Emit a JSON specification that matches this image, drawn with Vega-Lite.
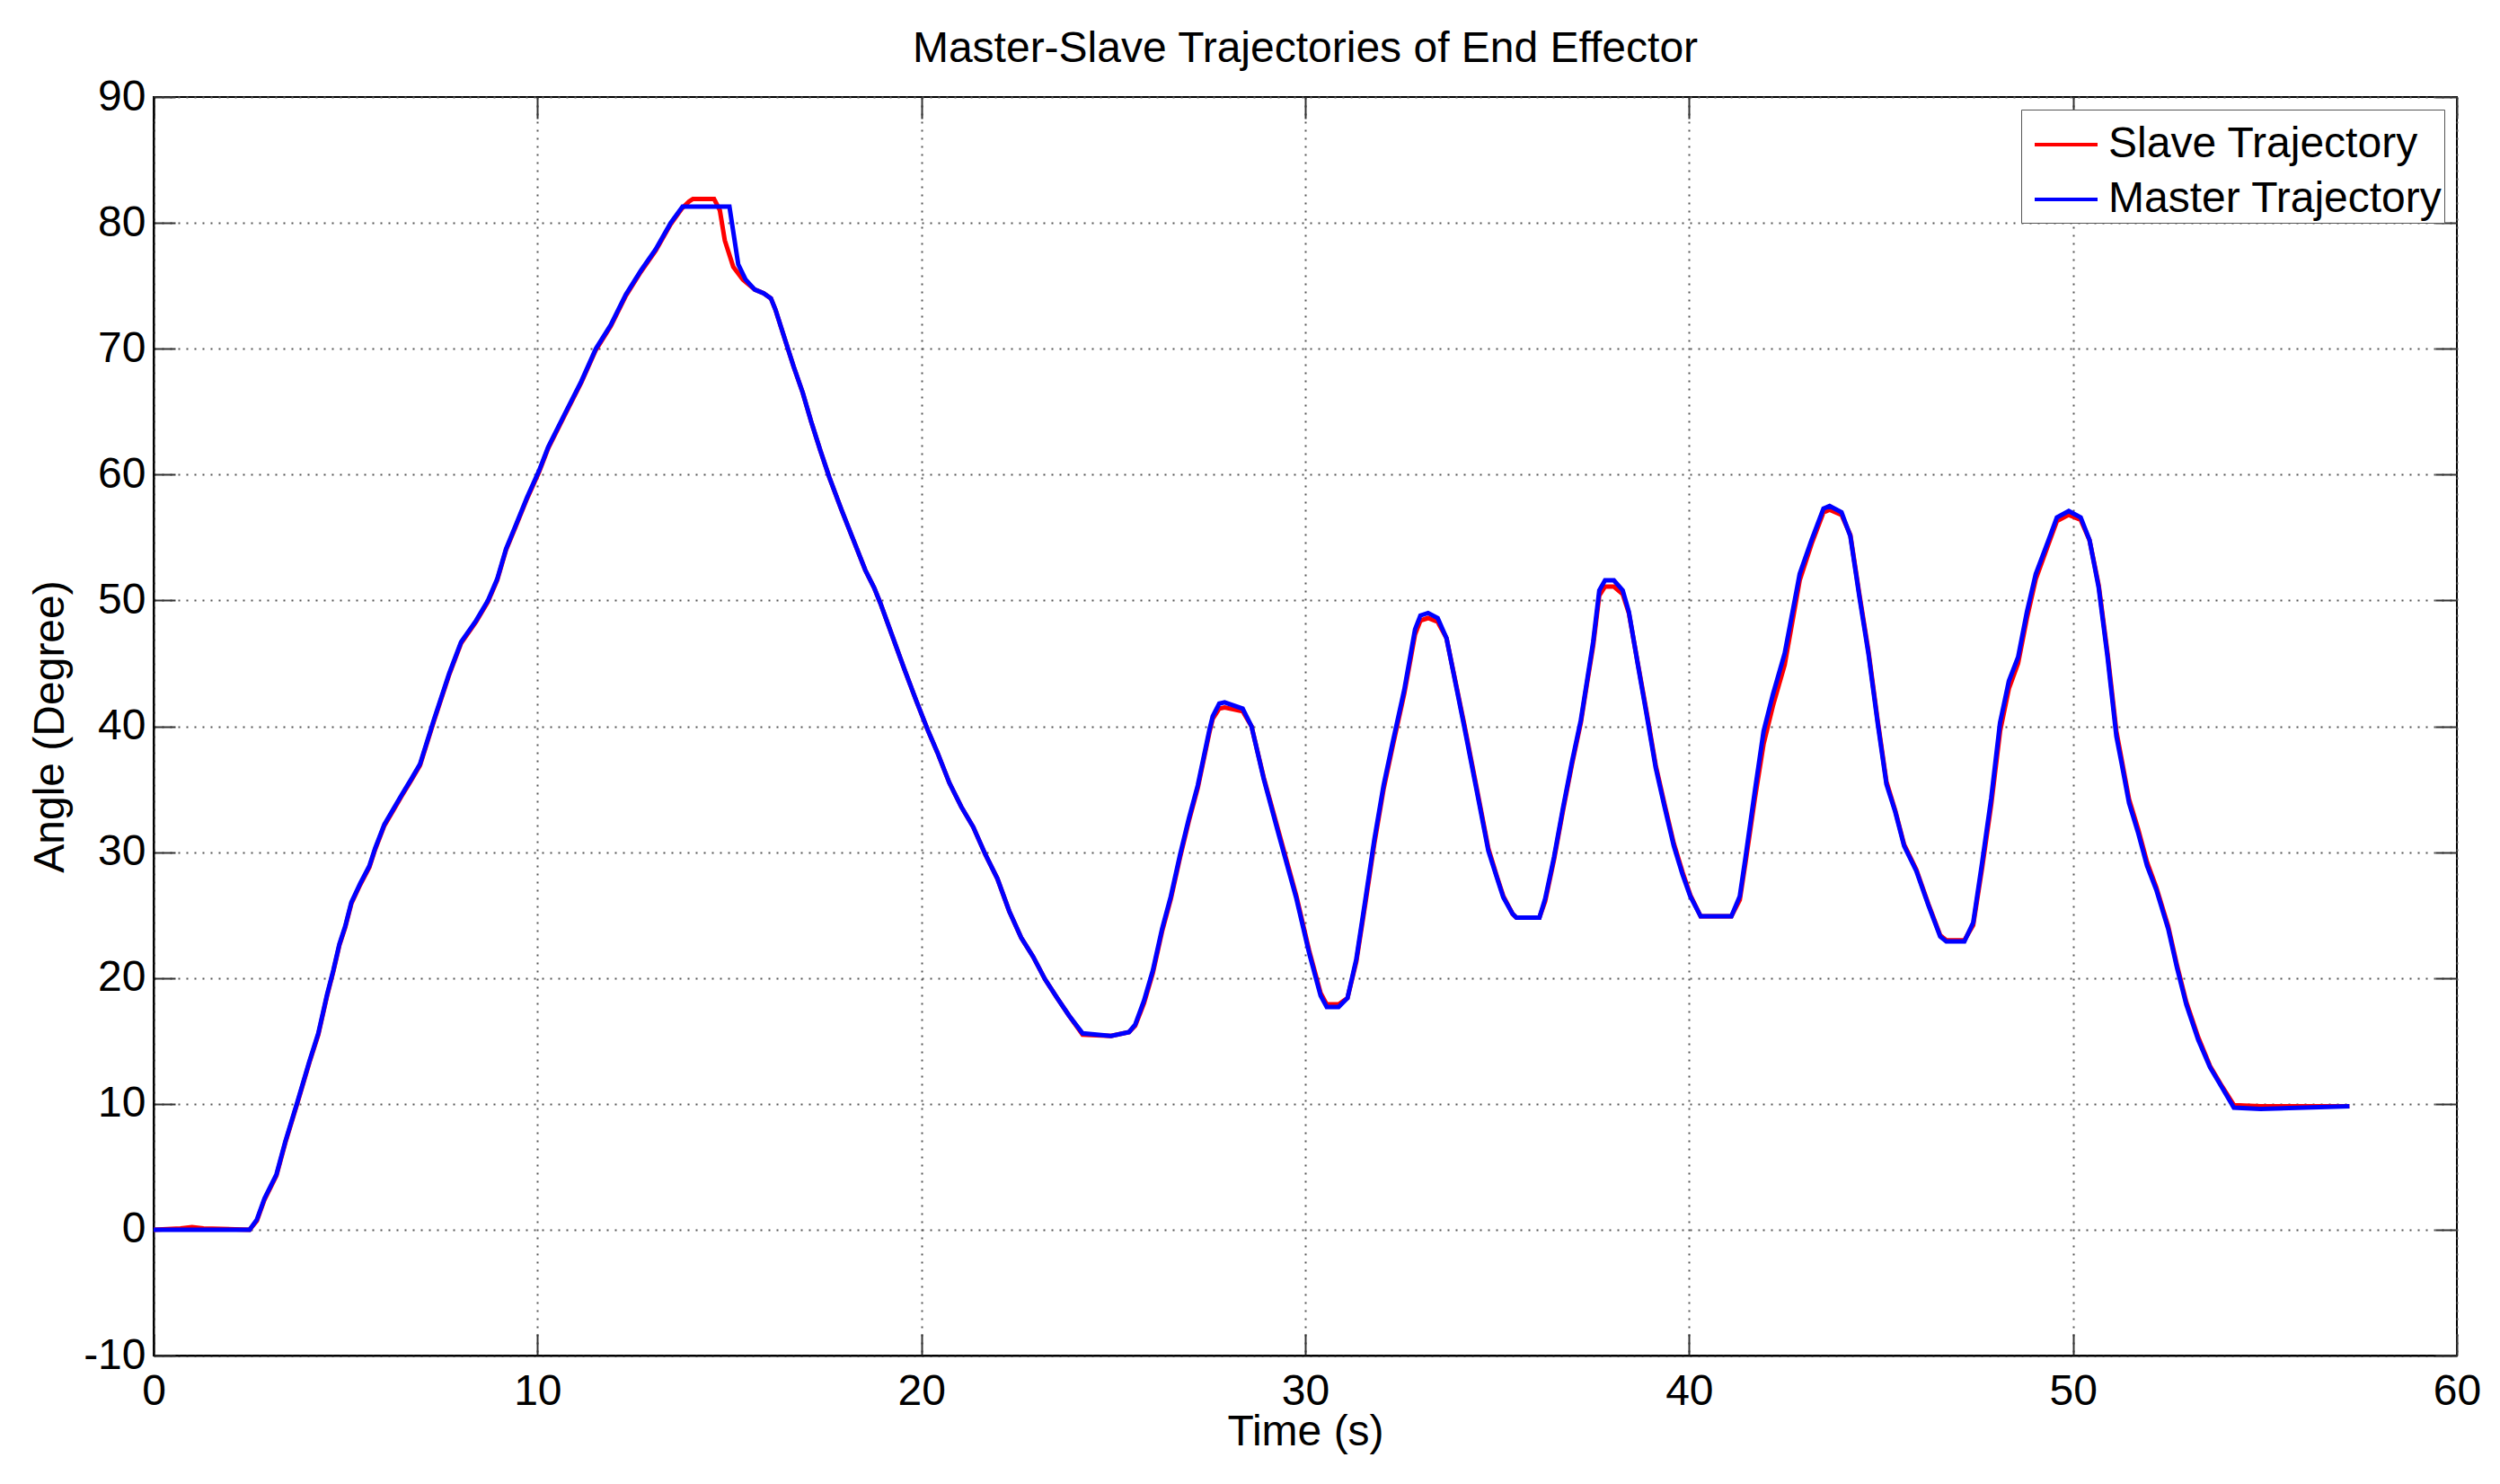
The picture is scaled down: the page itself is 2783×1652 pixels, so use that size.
{
  "$schema": "https://vega.github.io/schema/vega-lite/v6.json",
  "width": 2564,
  "height": 1401,
  "autosize": "none",
  "padding": {"left": 171, "top": 108, "right": 48, "bottom": 143},
  "background": "white",
  "title": {"text": "Master-Slave Trajectories of End Effector"},
  "datasets": {
    "slave": [
      {"t": 0, "v": 0}, {"t": 0.7, "v": 0.1}, {"t": 1.0, "v": 0.2}, {"t": 1.3, "v": 0.1}, {"t": 2.5, "v": 0},
      {"t": 2.69, "v": 0.7}, {"t": 2.89, "v": 2.4}, {"t": 3.2, "v": 4.3}, {"t": 3.43, "v": 6.9}, {"t": 3.74, "v": 10.0},
      {"t": 4.06, "v": 13.3}, {"t": 4.29, "v": 15.5}, {"t": 4.52, "v": 18.6}, {"t": 4.68, "v": 20.5}, {"t": 4.84, "v": 22.6},
      {"t": 4.99, "v": 24.0}, {"t": 5.15, "v": 25.9}, {"t": 5.38, "v": 27.4}, {"t": 5.62, "v": 28.8}, {"t": 5.77, "v": 30.2},
      {"t": 6.01, "v": 32.1}, {"t": 6.24, "v": 33.3}, {"t": 6.47, "v": 34.5}, {"t": 6.71, "v": 35.7}, {"t": 6.94, "v": 36.9},
      {"t": 7.3, "v": 40.4}, {"t": 7.7, "v": 44.1}, {"t": 8.01, "v": 46.6}, {"t": 8.4, "v": 48.3}, {"t": 8.71, "v": 49.9},
      {"t": 8.95, "v": 51.6}, {"t": 9.18, "v": 54.0}, {"t": 9.41, "v": 55.7}, {"t": 9.73, "v": 58.1}, {"t": 10.04, "v": 60.2},
      {"t": 10.28, "v": 62.1}, {"t": 10.74, "v": 64.9}, {"t": 11.14, "v": 67.3}, {"t": 11.52, "v": 69.9}, {"t": 11.91, "v": 71.8},
      {"t": 12.3, "v": 74.2}, {"t": 12.69, "v": 76.1}, {"t": 13.08, "v": 77.8}, {"t": 13.47, "v": 79.9}, {"t": 13.75, "v": 81.1},
      {"t": 13.95, "v": 81.7}, {"t": 14.05, "v": 81.9}, {"t": 14.6, "v": 81.9}, {"t": 14.75, "v": 81.0}, {"t": 14.88, "v": 78.6},
      {"t": 15.1, "v": 76.5}, {"t": 15.35, "v": 75.5}, {"t": 15.66, "v": 74.7}, {"t": 15.89, "v": 74.4}, {"t": 16.08, "v": 74.0},
      {"t": 16.2, "v": 73.1}, {"t": 16.44, "v": 70.8}, {"t": 16.67, "v": 68.6}, {"t": 16.91, "v": 66.5}, {"t": 17.14, "v": 64.1},
      {"t": 17.37, "v": 61.9}, {"t": 17.6, "v": 59.8}, {"t": 17.92, "v": 57.2}, {"t": 18.23, "v": 54.8}, {"t": 18.54, "v": 52.4},
      {"t": 18.77, "v": 51.0}, {"t": 18.93, "v": 49.8}, {"t": 19.24, "v": 47.2}, {"t": 19.55, "v": 44.6}, {"t": 19.87, "v": 42.0},
      {"t": 20.18, "v": 39.6}, {"t": 20.42, "v": 37.9}, {"t": 20.73, "v": 35.5}, {"t": 21.04, "v": 33.6}, {"t": 21.35, "v": 32.0},
      {"t": 21.67, "v": 29.8}, {"t": 21.98, "v": 27.9}, {"t": 22.29, "v": 25.3}, {"t": 22.6, "v": 23.2}, {"t": 22.91, "v": 21.7},
      {"t": 23.22, "v": 19.9}, {"t": 23.54, "v": 18.4}, {"t": 23.85, "v": 17.0}, {"t": 24.2, "v": 15.5}, {"t": 24.94, "v": 15.4},
      {"t": 25.41, "v": 15.7}, {"t": 25.57, "v": 16.2}, {"t": 25.8, "v": 18.0}, {"t": 26.03, "v": 20.4}, {"t": 26.27, "v": 23.7},
      {"t": 26.5, "v": 26.3}, {"t": 26.74, "v": 29.6}, {"t": 26.97, "v": 32.5}, {"t": 27.2, "v": 35.1}, {"t": 27.51, "v": 39.6},
      {"t": 27.59, "v": 40.6}, {"t": 27.76, "v": 41.4}, {"t": 27.9, "v": 41.5}, {"t": 28.37, "v": 41.2}, {"t": 28.6, "v": 40.0},
      {"t": 28.92, "v": 35.9}, {"t": 29.3, "v": 31.7}, {"t": 29.77, "v": 26.5}, {"t": 30.1, "v": 22.2}, {"t": 30.4, "v": 18.8},
      {"t": 30.56, "v": 17.9}, {"t": 30.87, "v": 17.9}, {"t": 31.1, "v": 18.4}, {"t": 31.33, "v": 21.3}, {"t": 31.57, "v": 26.0},
      {"t": 31.8, "v": 30.7}, {"t": 32.04, "v": 35.0}, {"t": 32.27, "v": 38.3}, {"t": 32.58, "v": 42.6}, {"t": 32.86, "v": 47.3},
      {"t": 33.0, "v": 48.4}, {"t": 33.2, "v": 48.6}, {"t": 33.45, "v": 48.3}, {"t": 33.68, "v": 47.0}, {"t": 34.14, "v": 40.2},
      {"t": 34.53, "v": 34.1}, {"t": 34.77, "v": 30.3}, {"t": 35.0, "v": 28.0}, {"t": 35.16, "v": 26.5}, {"t": 35.4, "v": 25.1},
      {"t": 35.5, "v": 24.8}, {"t": 36.1, "v": 24.8}, {"t": 36.25, "v": 26.1}, {"t": 36.48, "v": 29.4}, {"t": 36.72, "v": 33.4},
      {"t": 36.95, "v": 37.0}, {"t": 37.18, "v": 40.3}, {"t": 37.34, "v": 43.4}, {"t": 37.5, "v": 46.4}, {"t": 37.66, "v": 50.4},
      {"t": 37.81, "v": 51.1}, {"t": 38.04, "v": 51.1}, {"t": 38.27, "v": 50.5}, {"t": 38.43, "v": 49.0}, {"t": 38.67, "v": 44.9},
      {"t": 38.9, "v": 41.0}, {"t": 39.13, "v": 36.9}, {"t": 39.36, "v": 33.8}, {"t": 39.6, "v": 30.7}, {"t": 39.83, "v": 28.4},
      {"t": 40.03, "v": 26.6}, {"t": 40.3, "v": 24.9}, {"t": 41.1, "v": 24.9}, {"t": 41.32, "v": 26.2}, {"t": 41.47, "v": 29.2},
      {"t": 41.71, "v": 34.2}, {"t": 41.94, "v": 38.6}, {"t": 42.18, "v": 41.6}, {"t": 42.49, "v": 44.9}, {"t": 42.8, "v": 50.2},
      {"t": 42.88, "v": 51.6}, {"t": 43.19, "v": 54.5}, {"t": 43.5, "v": 57.0}, {"t": 43.66, "v": 57.2}, {"t": 43.97, "v": 56.8},
      {"t": 44.2, "v": 55.2}, {"t": 44.44, "v": 50.4}, {"t": 44.67, "v": 46.0}, {"t": 44.91, "v": 40.5}, {"t": 45.14, "v": 35.6},
      {"t": 45.37, "v": 33.3}, {"t": 45.6, "v": 30.6}, {"t": 45.92, "v": 28.6}, {"t": 46.23, "v": 25.9}, {"t": 46.54, "v": 23.4},
      {"t": 46.7, "v": 23.0}, {"t": 47.17, "v": 23.0}, {"t": 47.4, "v": 24.2}, {"t": 47.63, "v": 28.7}, {"t": 47.87, "v": 33.8},
      {"t": 48.1, "v": 39.6}, {"t": 48.33, "v": 43.0}, {"t": 48.57, "v": 45.0}, {"t": 48.8, "v": 48.6}, {"t": 49.03, "v": 51.7},
      {"t": 49.34, "v": 54.3}, {"t": 49.58, "v": 56.3}, {"t": 49.89, "v": 56.8}, {"t": 50.2, "v": 56.4}, {"t": 50.43, "v": 54.8},
      {"t": 50.67, "v": 51.2}, {"t": 50.9, "v": 45.8}, {"t": 51.13, "v": 39.6}, {"t": 51.27, "v": 37.3}, {"t": 51.46, "v": 34.2},
      {"t": 51.7, "v": 31.8}, {"t": 51.93, "v": 29.2}, {"t": 52.17, "v": 27.2}, {"t": 52.48, "v": 24.1}, {"t": 52.71, "v": 21.0},
      {"t": 52.95, "v": 18.1}, {"t": 53.26, "v": 15.3}, {"t": 53.57, "v": 13.0}, {"t": 53.88, "v": 11.4}, {"t": 54.19, "v": 9.9},
      {"t": 54.89, "v": 9.8}, {"t": 57.2, "v": 9.8}
    ],
    "master": [
      {"t": 0, "v": 0}, {"t": 1.0, "v": 0}, {"t": 2.5, "v": 0},
      {"t": 2.69, "v": 0.8}, {"t": 2.89, "v": 2.5}, {"t": 3.2, "v": 4.4}, {"t": 3.43, "v": 7.0}, {"t": 3.74, "v": 10.1},
      {"t": 4.06, "v": 13.4}, {"t": 4.29, "v": 15.6}, {"t": 4.52, "v": 18.7}, {"t": 4.68, "v": 20.6}, {"t": 4.84, "v": 22.7},
      {"t": 4.99, "v": 24.1}, {"t": 5.15, "v": 26.0}, {"t": 5.38, "v": 27.5}, {"t": 5.62, "v": 28.9}, {"t": 5.77, "v": 30.3},
      {"t": 6.01, "v": 32.2}, {"t": 6.24, "v": 33.4}, {"t": 6.47, "v": 34.6}, {"t": 6.71, "v": 35.8}, {"t": 6.94, "v": 37.0},
      {"t": 7.3, "v": 40.5}, {"t": 7.7, "v": 44.2}, {"t": 8.01, "v": 46.7}, {"t": 8.4, "v": 48.4}, {"t": 8.71, "v": 50.0},
      {"t": 8.95, "v": 51.7}, {"t": 9.18, "v": 54.1}, {"t": 9.41, "v": 55.8}, {"t": 9.73, "v": 58.2}, {"t": 10.04, "v": 60.3},
      {"t": 10.28, "v": 62.2}, {"t": 10.74, "v": 65.0}, {"t": 11.14, "v": 67.4}, {"t": 11.52, "v": 70.0}, {"t": 11.91, "v": 71.9},
      {"t": 12.3, "v": 74.3}, {"t": 12.69, "v": 76.2}, {"t": 13.08, "v": 77.9}, {"t": 13.47, "v": 80.0}, {"t": 13.78, "v": 81.3},
      {"t": 15.0, "v": 81.3}, {"t": 15.23, "v": 76.7}, {"t": 15.42, "v": 75.5}, {"t": 15.66, "v": 74.7}, {"t": 15.89, "v": 74.4},
      {"t": 16.08, "v": 74.0}, {"t": 16.2, "v": 73.1}, {"t": 16.44, "v": 70.8}, {"t": 16.67, "v": 68.6}, {"t": 16.91, "v": 66.5},
      {"t": 17.14, "v": 64.1}, {"t": 17.37, "v": 61.9}, {"t": 17.6, "v": 59.8}, {"t": 17.92, "v": 57.2}, {"t": 18.23, "v": 54.8},
      {"t": 18.54, "v": 52.4}, {"t": 18.77, "v": 51.0}, {"t": 18.93, "v": 49.8}, {"t": 19.24, "v": 47.2}, {"t": 19.55, "v": 44.6},
      {"t": 19.87, "v": 42.0}, {"t": 20.18, "v": 39.6}, {"t": 20.42, "v": 37.9}, {"t": 20.73, "v": 35.5}, {"t": 21.04, "v": 33.6},
      {"t": 21.35, "v": 32.0}, {"t": 21.67, "v": 29.8}, {"t": 21.98, "v": 27.9}, {"t": 22.29, "v": 25.3}, {"t": 22.6, "v": 23.2},
      {"t": 22.91, "v": 21.7}, {"t": 23.22, "v": 19.9}, {"t": 23.54, "v": 18.4}, {"t": 23.85, "v": 17.0}, {"t": 24.2, "v": 15.6},
      {"t": 24.94, "v": 15.4}, {"t": 25.41, "v": 15.7}, {"t": 25.57, "v": 16.3}, {"t": 25.8, "v": 18.2}, {"t": 26.03, "v": 20.6},
      {"t": 26.27, "v": 23.9}, {"t": 26.5, "v": 26.5}, {"t": 26.74, "v": 29.8}, {"t": 26.97, "v": 32.7}, {"t": 27.2, "v": 35.3},
      {"t": 27.51, "v": 39.8}, {"t": 27.59, "v": 40.8}, {"t": 27.76, "v": 41.8}, {"t": 27.9, "v": 41.9}, {"t": 28.37, "v": 41.4},
      {"t": 28.6, "v": 40.0}, {"t": 28.92, "v": 35.8}, {"t": 29.3, "v": 31.5}, {"t": 29.77, "v": 26.3}, {"t": 30.1, "v": 22.0},
      {"t": 30.4, "v": 18.6}, {"t": 30.56, "v": 17.7}, {"t": 30.87, "v": 17.7}, {"t": 31.1, "v": 18.4}, {"t": 31.33, "v": 21.5},
      {"t": 31.57, "v": 26.3}, {"t": 31.8, "v": 31.0}, {"t": 32.04, "v": 35.3}, {"t": 32.27, "v": 38.6}, {"t": 32.58, "v": 42.9},
      {"t": 32.86, "v": 47.7}, {"t": 33.0, "v": 48.8}, {"t": 33.2, "v": 49.0}, {"t": 33.45, "v": 48.6}, {"t": 33.68, "v": 47.0},
      {"t": 34.14, "v": 40.0}, {"t": 34.53, "v": 33.9}, {"t": 34.77, "v": 30.1}, {"t": 35.0, "v": 27.9}, {"t": 35.16, "v": 26.4},
      {"t": 35.4, "v": 25.1}, {"t": 35.5, "v": 24.8}, {"t": 36.1, "v": 24.8}, {"t": 36.25, "v": 26.3}, {"t": 36.48, "v": 29.6},
      {"t": 36.72, "v": 33.6}, {"t": 36.95, "v": 37.2}, {"t": 37.18, "v": 40.5}, {"t": 37.34, "v": 43.6}, {"t": 37.5, "v": 46.7},
      {"t": 37.66, "v": 50.8}, {"t": 37.81, "v": 51.6}, {"t": 38.04, "v": 51.6}, {"t": 38.27, "v": 50.8}, {"t": 38.43, "v": 49.1},
      {"t": 38.67, "v": 44.8}, {"t": 38.9, "v": 40.8}, {"t": 39.13, "v": 36.7}, {"t": 39.36, "v": 33.6}, {"t": 39.6, "v": 30.5},
      {"t": 39.83, "v": 28.2}, {"t": 40.03, "v": 26.5}, {"t": 40.3, "v": 24.9}, {"t": 41.1, "v": 24.9}, {"t": 41.32, "v": 26.5},
      {"t": 41.47, "v": 29.6}, {"t": 41.71, "v": 34.8}, {"t": 41.94, "v": 39.6}, {"t": 42.18, "v": 42.5}, {"t": 42.49, "v": 45.8},
      {"t": 42.8, "v": 50.8}, {"t": 42.88, "v": 52.1}, {"t": 43.19, "v": 54.8}, {"t": 43.5, "v": 57.3}, {"t": 43.66, "v": 57.5},
      {"t": 43.97, "v": 57.0}, {"t": 44.2, "v": 55.1}, {"t": 44.44, "v": 50.2}, {"t": 44.67, "v": 45.8}, {"t": 44.91, "v": 40.3},
      {"t": 45.14, "v": 35.4}, {"t": 45.37, "v": 33.2}, {"t": 45.6, "v": 30.5}, {"t": 45.92, "v": 28.5}, {"t": 46.23, "v": 25.8},
      {"t": 46.54, "v": 23.3}, {"t": 46.7, "v": 22.9}, {"t": 47.17, "v": 22.9}, {"t": 47.4, "v": 24.4}, {"t": 47.63, "v": 29.1},
      {"t": 47.87, "v": 34.3}, {"t": 48.1, "v": 40.3}, {"t": 48.33, "v": 43.6}, {"t": 48.57, "v": 45.5}, {"t": 48.8, "v": 49.1},
      {"t": 49.03, "v": 52.1}, {"t": 49.34, "v": 54.6}, {"t": 49.58, "v": 56.6}, {"t": 49.89, "v": 57.1}, {"t": 50.2, "v": 56.6},
      {"t": 50.43, "v": 54.8}, {"t": 50.67, "v": 51.0}, {"t": 50.9, "v": 45.5}, {"t": 51.13, "v": 39.2}, {"t": 51.27, "v": 37.0},
      {"t": 51.46, "v": 33.9}, {"t": 51.7, "v": 31.5}, {"t": 51.93, "v": 28.9}, {"t": 52.17, "v": 27.0}, {"t": 52.48, "v": 23.9},
      {"t": 52.71, "v": 20.8}, {"t": 52.95, "v": 17.9}, {"t": 53.26, "v": 15.1}, {"t": 53.57, "v": 12.9}, {"t": 53.88, "v": 11.3},
      {"t": 54.19, "v": 9.7}, {"t": 54.89, "v": 9.6}, {"t": 57.2, "v": 9.8}
    ]
  },
  "layer": [
    {
      "data": {"name": "slave"},
      "mark": {"type": "line", "strokeWidth": 5, "clip": true},
      "encoding": {
        "x": {"field": "t", "type": "quantitative",
              "scale": {"domain": [0, 60], "nice": false, "zero": false},
              "axis": {"orient": "bottom", "values": [0, 10, 20, 30, 40, 50, 60], "title": "Time (s)", "labelPadding": 40, "titlePadding": -3, "labelExpr": "'' + datum.value"}},
        "y": {"field": "v", "type": "quantitative",
              "scale": {"domain": [-10, 90], "nice": false, "zero": false},
              "axis": {"orient": "left", "values": [-10, 0, 10, 20, 30, 40, 50, 60, 70, 80, 90], "title": "Angle (Degree)", "labelPadding": 33, "titlePadding": 12, "labelExpr": "'' + datum.value"}},
        "color": {"datum": "Slave Trajectory", "type": "nominal",
                  "scale": {"domain": ["Slave Trajectory", "Master Trajectory"], "range": ["#ff0000", "#0000ff"]},
                  "legend": {"orient": "none", "legendX": 2079, "legendY": 14, "title": null,
                             "symbolType": "stroke", "symbolSize": 4900, "symbolStrokeWidth": 4,
                             "labelFontSize": 48, "labelColor": "#000", "labelFont": "Liberation Sans",
                             "fillColor": "white", "strokeColor": "#555", "padding": 2, "symbolOffset": 11,
                             "labelOffset": 10, "rowPadding": 0, "labelLimit": 1000}}
      }
    },
    {
      "data": {"name": "master"},
      "mark": {"type": "line", "strokeWidth": 5, "clip": true},
      "encoding": {
        "x": {"field": "t", "type": "quantitative", "axis": null},
        "y": {"field": "v", "type": "quantitative", "axis": null},
        "color": {"datum": "Master Trajectory", "type": "nominal"}
      }
    },
    {
      "data": {"name": "master"},
      "mark": {"type": "line", "opacity": 0},
      "encoding": {
        "x": {"field": "t", "type": "quantitative",
              "axis": {"orient": "top", "values": [0, 10, 20, 30, 40, 50, 60], "labels": false, "grid": false, "title": null, "domain": false}},
        "y": {"field": "v", "type": "quantitative",
              "axis": {"orient": "right", "values": [-10, 0, 10, 20, 30, 40, 50, 60, 70, 80, 90], "labels": false, "grid": false, "title": null, "domain": false}}
      }
    }
  ],
  "resolve": {"axis": {"x": "independent", "y": "independent"}},
  "config": {
    "font": "Liberation Sans",
    "view": {"stroke": "#000", "strokeWidth": 2},
    "axis": {
      "labelFontSize": 48, "titleFontSize": 48, "titleFontWeight": "normal",
      "labelColor": "#000", "titleColor": "#000", "labelFont": "Liberation Sans", "titleFont": "Liberation Sans",
      "domainColor": "#000", "domainWidth": 2,
      "tickColor": "#333", "tickWidth": 2, "tickSize": -24,
      "gridColor": "#555", "gridDash": [2, 7], "gridWidth": 2, "gridOpacity": 1,
      "labelFlush": false, "labelOverlap": false, "labelBound": false
    },
    "title": {"fontSize": 48, "fontWeight": "normal", "color": "#000", "font": "Liberation Sans", "offset": 5}
  }
}
